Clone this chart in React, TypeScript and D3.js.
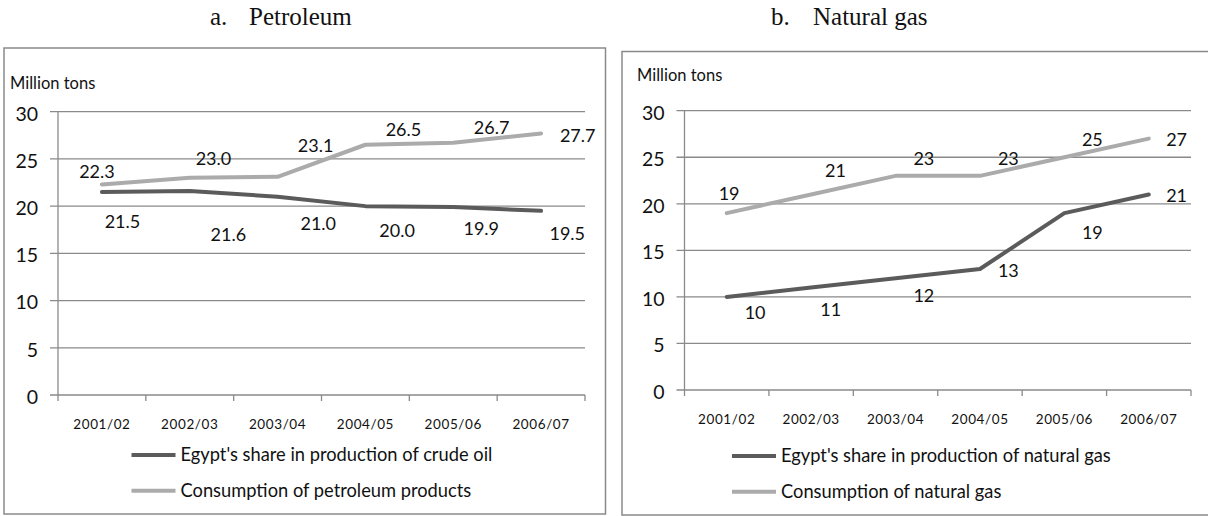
import React from "react";
import * as d3 from "d3";

// Fiscal years on the x axis
const categories = ["2001/02", "2002/03", "2003/04", "2004/05", "2005/06", "2006/07"];
const yTicks = [0, 5, 10, 15, 20, 25, 30];

// a. Petroleum (million tons)
const crudeOilShare = [21.5, 21.6, 21.0, 20.0, 19.9, 19.5];
const petroleumConsumption = [22.3, 23.0, 23.1, 26.5, 26.7, 27.7];

// b. Natural gas (million tons)
const gasShare = [10, 11, 12, 13, 19, 21];
const gasConsumption = [19, 21, 23, 23, 25, 27];

// Data-label placement relative to each point (label centre offset, px)
const crudeLabelOffsets = [[20.5, 29.7], [38.6, 44], [40.7, 26.6], [31.7, 24.6], [28, 21.2], [26.2, 22.4]];
const petroleumLabelOffsets = [[-5, -12.7], [23.7, -19.5], [38, -31], [38, -14.8], [38.3, -15.6], [36.6, 2.3]];
const gasShareLabelOffsets = [[28.4, 15.8], [19.6, 21.7], [28.3, 17.7], [28.4, 1.7], [28, 19.6], [27.8, 1.5]];
const gasUseLabelOffsets = [[2.4, -19], [24.3, -23.8], [28.3, -17.6], [28.4, -17.6], [28, -18], [27.8, 1.3]];

const DARK = "#5b5b5b";
const LIGHT = "#ababab";
const GRID = "#8a8a8a";
const FONT = "Lato, 'Open Sans', sans-serif";

type Series = { name: string; values: number[]; color: string; offsets: number[][]; fmt: (v: number) => string };

type PanelProps = {
  box: [number, number, number, number];
  plot: { left: number; right: number; top: number; bottom: number };
  unitPos: [number, number];
  legendX: number;
  legendY: [number, number];
  series: Series[];
};

function Panel({ box, plot, unitPos, legendX, legendY, series }: PanelProps) {
  const x = d3.scaleBand<string>().domain(categories).range([plot.left, plot.right]);
  const y = d3.scaleLinear().domain([0, 30]).range([plot.bottom, plot.top]);
  const cx = (c: string) => (x(c) as number) + x.bandwidth() / 2;
  const line = d3
    .line<number>()
    .x((_, i) => cx(categories[i]))
    .y((v) => y(v));
  const boundaries = categories.map((c) => x(c) as number).concat([plot.right]);

  return (
    <g>
      <rect x={box[0]} y={box[1]} width={box[2] - box[0]} height={box[3] - box[1]} fill="#fff" stroke={GRID} strokeWidth={1.5} />
      <text x={unitPos[0]} y={unitPos[1]} fontFamily={FONT} fontSize={16.5} fill="#111" dy="0.35em">
        Million tons
      </text>
      {yTicks.map((t) => (
        <g key={t}>
          <line x1={plot.left - 8} x2={plot.right} y1={y(t)} y2={y(t)} stroke={GRID} strokeWidth={1.3} />
          <text x={plot.left - 20} y={y(t) + 2} textAnchor="end" fontFamily={FONT} fontSize={19.5} fill="#111" dy="0.35em">
            {t}
          </text>
        </g>
      ))}
      <line x1={plot.left} x2={plot.left} y1={plot.top} y2={plot.bottom} stroke={GRID} strokeWidth={1.3} />
      {boundaries.map((b, i) => (
        <line key={i} x1={b} x2={b} y1={plot.bottom} y2={plot.bottom + 6} stroke={GRID} strokeWidth={1.3} />
      ))}
      {categories.map((c) => (
        <text key={c} x={cx(c)} y={plot.bottom + 29} textAnchor="middle" fontFamily={FONT} fontSize={13.5} fill="#111" dy="0.35em" letterSpacing={0.6}>
          {c}
        </text>
      ))}
      {series.map((s) => (
        <path key={s.name} d={line(s.values) as string} fill="none" stroke={s.color} strokeWidth={4} strokeLinejoin="round" strokeLinecap="round" />
      ))}
      {series.map((s) =>
        s.values.map((v, i) => (
          <text
            key={s.name + i}
            x={cx(categories[i]) + s.offsets[i][0]}
            y={y(v) + s.offsets[i][1]}
            textAnchor="middle"
            fontFamily={FONT}
            fontSize={18}
            fill="#111"
            dy="0.35em"
          >
            {s.fmt(v)}
          </text>
        ))
      )}
      {series.map((s, i) => (
        <g key={"lg" + s.name}>
          <line x1={legendX} x2={legendX + 44} y1={legendY[i]} y2={legendY[i]} stroke={s.color} strokeWidth={4} />
          <text x={legendX + 49} y={legendY[i]} fontFamily={FONT} fontSize={18.3} fill="#111" dy="0.35em">
            {s.name}
          </text>
        </g>
      ))}
    </g>
  );
}

export default function App() {
  const one = (v: number) => v.toFixed(1);
  const whole = (v: number) => String(v);
  return (
    <svg width={1208} height={516} style={{ position: "fixed", left: 0, top: 0, background: "#fff" }}>
      <rect width={1208} height={516} fill="#fff" />
      <text y={25} fontFamily="'Liberation Serif', 'Times New Roman', serif" fontSize={25} fill="#111">
        <tspan x={210}>a.</tspan>
        <tspan x={249}>Petroleum</tspan>
      </text>
      <text y={25} fontFamily="'Liberation Serif', 'Times New Roman', serif" fontSize={25} fill="#111">
        <tspan x={771}>b.</tspan>
        <tspan x={813}>Natural gas</tspan>
      </text>
      <Panel
        box={[4, 48, 605.5, 514]}
        plot={{ left: 58, right: 585, top: 111.7, bottom: 395 }}
        unitPos={[10, 83]}
        legendX={131.5}
        legendY={[455, 490.7]}
        series={[
          { name: "Egypt's share in production of crude oil", values: crudeOilShare, color: DARK, offsets: crudeLabelOffsets, fmt: one },
          { name: "Consumption of petroleum products", values: petroleumConsumption, color: LIGHT, offsets: petroleumLabelOffsets, fmt: one },
        ]}
      />
      <Panel
        box={[622, 51.5, 1210, 515]}
        plot={{ left: 684.5, right: 1191, top: 110.7, bottom: 390 }}
        unitPos={[637, 75]}
        legendX={732}
        legendY={[456, 491.7]}
        series={[
          { name: "Egypt's share in production of natural gas", values: gasShare, color: DARK, offsets: gasShareLabelOffsets, fmt: whole },
          { name: "Consumption of natural gas", values: gasConsumption, color: LIGHT, offsets: gasUseLabelOffsets, fmt: whole },
        ]}
      />
    </svg>
  );
}
